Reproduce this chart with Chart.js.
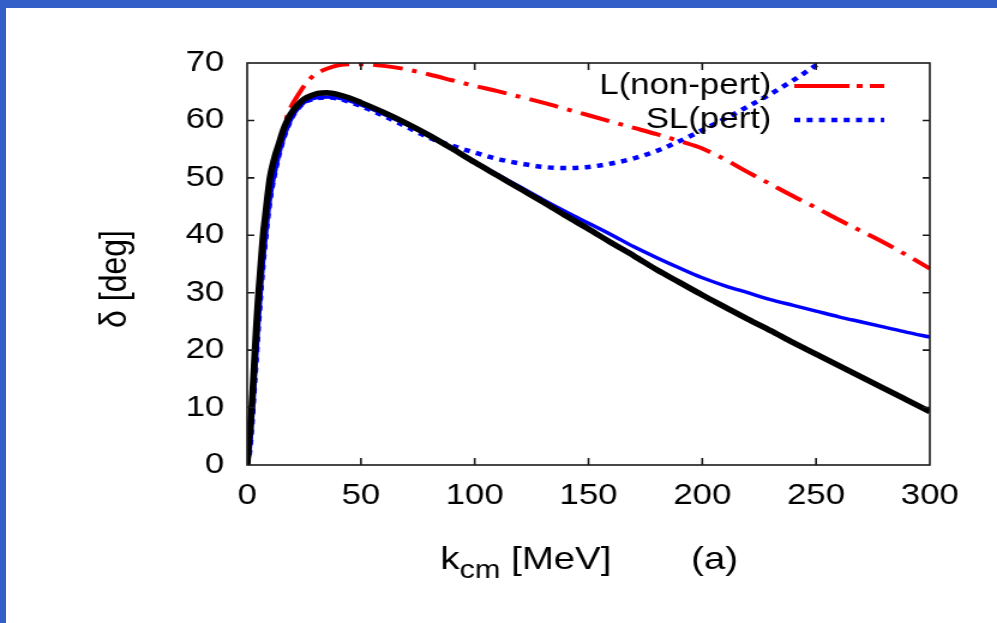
<!DOCTYPE html>
<html>
<head>
<meta charset="utf-8">
<script src="https://cdn.jsdelivr.net/npm/chart.js@4/dist/chart.umd.min.js"></script>
<style>
  html, body { margin: 0; padding: 0; background: #fff; }
  #page { position: absolute; left: 0; top: 0; width: 997px; height: 623px; box-sizing: border-box;
          border-top: 8px solid #3260c8; border-left: 6px solid #3260c8; background: #fff; }
  /* plot is drawn narrower and stretched 1.2x sideways, like the original figure */
  #plot { position: absolute; left: 0; top: 0; width: 997px; height: 623px; }
</style>
</head>
<body>
<div id="page"></div>
<canvas id="plot" width="831" height="623" style="width:997px;height:623px"></canvas>
<script>
// k_cm grid [MeV]
const kcm = [0, 1, 2, 3, 4, 5, 6, 7, 8, 10, 12, 14, 16, 18, 20, 22, 25, 28, 31, 35, 40, 45, 50,
  60, 70, 80, 90, 100, 110, 120, 130, 140, 150, 160, 170, 180, 190, 200, 210, 220, 230, 240,
  250, 260, 270, 280, 290, 300];

// phase shifts delta [deg]
const deltaBlack = [0, 5, 10, 17, 24, 30, 35, 40, 43.5, 50, 53.5, 56, 58.5, 60.3, 61.6, 62.6, 63.7, 64.3, 64.7, 64.8, 64.5, 63.9, 63.1,
  61.4, 59.5, 57.4, 55.1, 52.7, 50.4, 48.1, 45.8, 43.4, 41.1, 38.7, 36.4, 34.0, 31.8, 29.6, 27.5, 25.4, 23.4, 21.3,
  19.3, 17.3, 15.3, 13.3, 11.3, 9.3];
const deltaBlue = [0, 2, 6.5, 12.5, 18.5, 24.5, 30, 35, 39, 46, 50.5, 54, 56.8, 59, 60.7, 61.9, 63.1, 63.7, 64.0, 64.1, 63.9, 63.4, 62.7,
  61.1, 59.3, 57.3, 55.1, 52.8, 50.6, 48.4, 46.2, 44.1, 42.1, 40.1, 38.0, 36.1, 34.3, 32.6, 31.2, 30.0, 28.8, 27.8,
  26.8, 25.8, 24.9, 24.0, 23.1, 22.3];
const deltaNonPert = [0, 5, 10, 17, 24, 30, 35, 40, 43.5, 50, 53.5, 56, 58.5, 61.2, 62.9, 64.2, 66.0, 67.4, 68.3, 69.0, 69.6, 69.8, 69.8,
  69.5, 68.9, 68.0, 67.0, 66.0, 65.1, 64.1, 63.1, 62.0, 60.9, 59.8, 58.7, 57.6, 56.4, 55.1, 53.2, 51.0, 48.9, 46.8,
  44.8, 42.7, 40.7, 38.7, 36.5, 34.2];
const deltaPert = [0, 2, 6.5, 12.5, 18.5, 24.5, 30, 35, 39, 46, 50.5, 54, 56.8, 59, 60.7, 61.9, 63.1, 63.6, 63.9, 64.0, 63.8, 63.2, 62.5,
  60.8, 58.9, 57.0, 55.6, 54.4, 53.3, 52.5, 51.9, 51.7, 51.9, 52.5, 53.4, 54.7, 56.4, 58.3, 60.3, 62.4, 64.6, 67.0,
  69.6, 72.3, null, null, null, null];

const xTicks = [0, 50, 100, 150, 200, 250, 300];
const yTicks = [0, 10, 20, 30, 40, 50, 60, 70];
const legendLabels = ['L(non-pert)', 'SL(pert)'];

const FONT = '"Liberation Sans", Arial, Helvetica, sans-serif';
const pts = ys => kcm.map((x, i) => ({ x: x, y: ys[i] }));

// frame, inward ticks, axis titles and legend (gnuplot look)
const gnuplotDecor = {
  id: 'gnuplotDecor',
  afterDatasetsDraw(chart) {
    const ctx = chart.ctx;
    const a = chart.chartArea;
    const sx = chart.scales.x, sy = chart.scales.y;
    ctx.save();
    ctx.strokeStyle = '#1a1a1a';
    ctx.lineWidth = 1.6;
    ctx.strokeRect(a.left, a.top, a.right - a.left, a.bottom - a.top);
    ctx.beginPath();
    xTicks.slice(1, -1).forEach(v => {
      const px = sx.getPixelForValue(v);
      ctx.moveTo(px, a.bottom); ctx.lineTo(px, a.bottom - 7);
      ctx.moveTo(px, a.top); ctx.lineTo(px, a.top + 7);
    });
    yTicks.slice(1, -1).forEach(v => {
      const py = sy.getPixelForValue(v);
      ctx.moveTo(a.left, py); ctx.lineTo(a.left + 6, py);
      ctx.moveTo(a.right, py); ctx.lineTo(a.right - 6, py);
    });
    ctx.stroke();

    // legend, text right aligned before the sample line
    const ds = chart.data.datasets;
    const rows = [
      { text: legendLabels[0], y: 86, color: ds[3].borderColor, dash: [46, 6, 5, 6], w: 4 },
      { text: legendLabels[1], y: 120, color: ds[2].borderColor, dash: [5, 5.3], w: 4.5 },
    ];
    ctx.font = '29px ' + FONT;
    ctx.textAlign = 'right';
    ctx.textBaseline = 'middle';
    rows.forEach(r => {
      ctx.fillStyle = '#000';
      ctx.fillText(r.text, 643, r.y);
      ctx.beginPath();
      ctx.setLineDash(r.dash);
      ctx.strokeStyle = r.color;
      ctx.lineWidth = r.w;
      ctx.moveTo(662, r.y); ctx.lineTo(737, r.y);
      ctx.stroke();
    });
    ctx.setLineDash([]);

    // x title: k_cm [MeV]   (a)
    ctx.fillStyle = '#000';
    ctx.textAlign = 'left';
    ctx.textBaseline = 'alphabetic';
    ctx.font = '32px ' + FONT;
    let x = 367;
    ctx.fillText('k', x, 569);
    x += ctx.measureText('k').width;
    ctx.font = '25.6px ' + FONT;
    ctx.fillText('cm', x, 578);
    x += ctx.measureText('cm').width;
    ctx.font = '32px ' + FONT;
    ctx.fillText(' [MeV]', x, 569);
    ctx.fillText('(a)', 576, 569);

    // y title
    ctx.translate(96, 279);
    ctx.rotate(-Math.PI / 2);
    ctx.textAlign = 'center';
    ctx.textBaseline = 'middle';
    ctx.fillText('\u03b4 [deg]', 0, 0);
    ctx.restore();
  }
};

new Chart(document.getElementById('plot'), {
  type: 'line',
  data: {
    datasets: [
      { label: 'full', data: pts(deltaBlack), borderColor: '#000000', borderWidth: 5.5 },
      { label: 'SL', data: pts(deltaBlue), borderColor: '#0000ff', borderWidth: 3.5 },
      { label: legendLabels[1], data: pts(deltaPert), borderColor: '#0000ff', borderWidth: 4.5, borderDash: [5, 5.3], clip: 0 },
      { label: legendLabels[0], data: pts(deltaNonPert), borderColor: '#ff0000', borderWidth: 4, borderDash: [25, 8, 4, 8] },
    ].map(d => Object.assign({ pointRadius: 0, fill: false, cubicInterpolationMode: 'monotone', borderCapStyle: 'butt' }, d))
  },
  options: {
    responsive: false,
    animation: false,
    devicePixelRatio: 1,
    layout: { padding: { left: 0, top: 63, right: 56, bottom: 0 } },
    plugins: { legend: { display: false }, tooltip: { enabled: false } },
    scales: {
      x: {
        type: 'linear', min: 0, max: 300,
        afterBuildTicks: s => { s.ticks = xTicks.map(v => ({ value: v })); },
        afterFit: s => { s.height = 158; },
        grid: { display: false, drawTicks: false },
        border: { display: false },
        ticks: { color: '#000', padding: 14, maxRotation: 0, font: { family: FONT, size: 29 } }
      },
      y: {
        min: 0, max: 70,
        afterBuildTicks: s => { s.ticks = yTicks.map(v => ({ value: v })); },
        afterFit: s => { s.width = 206; },
        grid: { display: false, drawTicks: false },
        border: { display: false },
        ticks: { color: '#000', padding: 19, font: { family: FONT, size: 29 } }
      }
    }
  },
  plugins: [gnuplotDecor]
});
</script>
</body>
</html>
